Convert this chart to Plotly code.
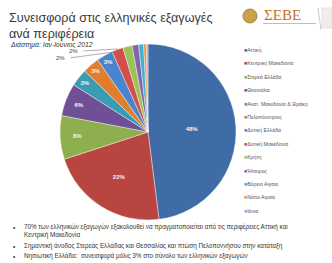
import plotly.graph_objects as go

W, H = 332, 263

labels = ["Αττική", "Κεντρική Μακεδονία", "Στερεά Ελλάδα", "Θεσσαλία",
          "Ανατ. Μακεδονία & Θράκη", "Πελοπόννησος", "Δυτική Ελλάδα",
          "Δυτική Μακεδονία", "Κρήτη", "Ήπειρος", "Βόρειο Αιγαίο",
          "Νότιο Αιγαίο", "Ιόνια"]
values = [48, 22, 8, 6, 3.2, 3.1, 3.0, 2.1, 1.7, 1.2, 0.9, 0.5, 0.3]
colors = ["#3F6BA6", "#B94541", "#8EAF4E", "#6F4F96", "#3A9BB5", "#E07E2E",
          "#4A84CC", "#D2504C", "#9CC25A", "#8265AF", "#3FB2D0", "#F5943F",
          "#A8A8D8"]
inside_shown = 7  # slices labelled inside
outside_labels = ["2%", "2%"]

title_lines = ["Συνεισφορά στις ελληνικές εξαγωγές", "ανά περιφέρεια"]
subtitle = "Διάστημα: Ιαν-Ιούνιος 2012"
bullets = [
    "70% των ελληνικών εξαγωγών εξακολουθεί να πραγματοποιείται από τις περιφέρειες Αττική και<br>Κεντρική Μακεδονία",
    "Σημαντική άνοδος Στερεάς Ελλάδας και Θεσσαλίας και πτώση Πελοποννήσου στην κατάταξη",
    "Νησιωτική Ελλάδα:  συνεισφορά μόλις 3% στο σύνολο των ελληνικών εξαγωγών",
]


def px(x):
    return x / W


def py(y):
    return 1 - y / H


total = sum(values)
texts = [f"<b>{round(v / total * 100):.0f}%</b>" if i < inside_shown else "" for i, v in enumerate(values)]

fig = go.Figure(go.Pie(
    labels=labels, values=values, sort=False, direction="clockwise", rotation=0,
    marker=dict(colors=colors, line=dict(color="white", width=0.4)),
    text=texts, textinfo="text", textposition="inside",
    insidetextorientation="horizontal",
    textfont=dict(family="Liberation Sans, Arial", size=6, color="#f4f4f4"),
    hoverinfo="label+percent",
    domain=dict(x=[px(60), px(236)], y=[py(220), py(44)]),
    showlegend=False,
))

ann = []
# Titles
ann.append(dict(x=px(7), y=py(18), xref="paper", yref="paper", xanchor="left", yanchor="middle",
                text=title_lines[0], showarrow=False,
                font=dict(family="Liberation Sans, Arial", size=12.6, color="#3a3a3a")))
ann.append(dict(x=px(7), y=py(34), xref="paper", yref="paper", xanchor="left", yanchor="middle",
                text=title_lines[1], showarrow=False,
                font=dict(family="Liberation Sans, Arial", size=12.6, color="#3a3a3a")))
ann.append(dict(x=px(8), y=py(45.5), xref="paper", yref="paper", xanchor="left", yanchor="middle",
                text=f"<i>{subtitle}</i>", showarrow=False,
                font=dict(family="Liberation Sans, Arial", size=6.8, color="#333")))

# Outside labels with leader lines
out_pos = [((80, 51), (118, 49)), ((67, 58), (114, 52))]
for lab, ((lx, ly), (tx, ty)) in zip(outside_labels, out_pos):
    ann.append(dict(x=px(tx), y=py(ty), xref="paper", yref="paper",
                    ax=lx - tx + 2, ay=ly - ty, showarrow=True, arrowhead=0,
                    arrowwidth=0.6, arrowcolor="#777", text="", standoff=0, startstandoff=0))
    ann.append(dict(x=px(lx), y=py(ly), xref="paper", yref="paper", xanchor="right", yanchor="middle",
                    text=lab, showarrow=False,
                    font=dict(family="Liberation Sans, Arial", size=6, color="#444")))

# Manual legend
for i, (lab, c) in enumerate(zip(labels, colors)):
    ann.append(dict(x=px(242), y=py(50 + 13.4 * i), xref="paper", yref="paper",
                    xanchor="left", yanchor="middle", showarrow=False,
                    text=f'<span style="color:{c}">■</span>{lab}',
                    font=dict(family="Liberation Sans, Arial", size=5.2, color="#555")))

# Bullets
bullet_y = [230.5, 246, 256]
for t, y in zip(bullets, bullet_y):
    ann.append(dict(x=px(11), y=py(y if "<br>" not in t else 227), xref="paper", yref="paper",
                    xanchor="left", yanchor="middle", showarrow=False, text="•",
                    font=dict(family="Liberation Sans, Arial", size=6.5, color="#333")))
    ann.append(dict(x=px(22), y=py(y), xref="paper", yref="paper",
                    xanchor="left", yanchor="middle", showarrow=False, text=t, align="left",
                    font=dict(family="Liberation Sans, Arial", size=6.3, color="#333")))

# Logo text
ann.append(dict(x=px(262), y=py(15), xref="paper", yref="paper", xanchor="left", yanchor="middle",
                showarrow=False, text="ΣΕΒΕ",
                font=dict(family="Liberation Serif, DejaVu Serif", size=15, color="#C4712C")))

shapes = [
    dict(type="circle", xref="paper", yref="paper", x0=px(243), x1=px(257), y0=py(23), y1=py(9),
         fillcolor="#C9A24A", line=dict(color="#9A7428", width=0.8)),
    dict(type="line", xref="paper", yref="paper", x0=px(263), x1=px(316), y0=py(23.5), y1=py(23.5),
         line=dict(color="#D8B89A", width=1)),
    dict(type="line", xref="paper", yref="paper", x0=px(318), x1=px(321), y0=py(8), y1=py(30),
         line=dict(color="#bbb", width=0.8)),
    dict(type="rect", xref="paper", yref="paper", x0=px(322), x1=px(332), y0=py(28), y1=py(8),
         fillcolor="#eee", line=dict(color="#ccc", width=0.5)),
]

fig.update_layout(width=W, height=H, margin=dict(l=0, r=0, t=0, b=0),
                  paper_bgcolor="white", plot_bgcolor="white",
                  annotations=ann, shapes=shapes)
fig.write_html("out.html", config={"displayModeBar": False},
               post_script="document.body.style.margin='0';document.body.style.overflow='hidden';")
